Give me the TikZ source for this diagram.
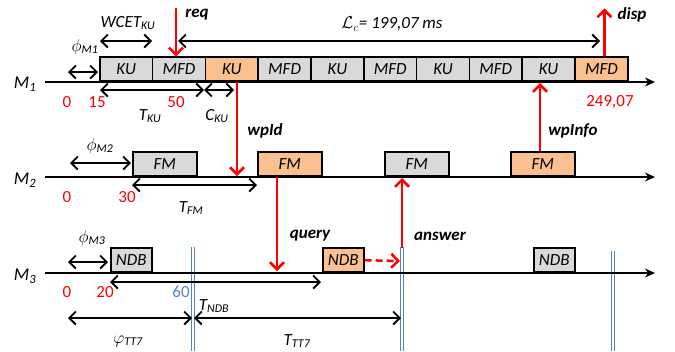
\documentclass[tikz,border=0pt]{standalone}
\usepackage{fontspec}
\setmainfont{Carlito}
\usetikzlibrary{arrows.meta}

\begin{document}
\begin{tikzpicture}[x=1pt,y=-1pt,
        txt/.style={font=\fontsize{17}{20}\selectfont\itshape},
        num/.style={font=\fontsize{17}{20}\selectfont,text=red},
        sig/.style={font=\fontsize{17}{20}\selectfont\bfseries\itshape},
        task/.style={draw,line width=1.6pt,minimum height=24pt,inner sep=0pt,anchor=south west,txt},
        axis/.style={line width=1.5pt,-{Stealth[length=10pt,width=9pt]}},
        dim/.style={line width=1.8pt,{Straight Barb[length=6.5pt,width=13pt]}-{Straight Barb[length=6.5pt,width=13pt]}},
        msg/.style={red,line width=2.5pt,-{Straight Barb[length=7pt,width=14pt]}},
        slot/.style={draw=tblue,line width=1pt,double=white,double distance=1.4pt}]
        %colores
        \definecolor{gris}{RGB}{217,217,217}
        \definecolor{naranja}{RGB}{250,192,143}
        \definecolor{tblue}{RGB}{84,130,196}
        \useasboundingbox (0,0) rectangle (675,351);

        % Ventanas TT7
        \foreach \x/\y in {193/247,402/247,613/251}
            \draw[slot] (\x,\y) -- (\x,351);

        % Ejes
        \draw[axis] (45,82) -- (655,82);
        \draw[axis] (45,177) -- (655,177);
        \draw[axis] (45,273) -- (655,273);
        \node[txt,font=\fontsize{18}{20}\selectfont\itshape] (m1) at (25,84) {M\textsubscript{1}};
        \node[txt,font=\fontsize{18}{20}\selectfont\itshape] (m2) at (25,180) {M\textsubscript{2}};
        \node[txt,font=\fontsize{18}{20}\selectfont\itshape] (m3) at (25,276) {M\textsubscript{3}};

        % Tareas M1
        \foreach \i/\t/\c in {0/KU/gris,1/MFD/gris,2/KU/naranja,3/MFD/gris,4/KU/gris,
                             5/MFD/gris,6/KU/gris,7/MFD/gris,8/KU/gris,9/MFD/naranja}
            \node[task,fill=\c,minimum width=52.8pt] (k\i) at (99+52.8*\i,82) {\t};
        % Tareas M2
        \foreach \i/\x/\c in {0/132/gris,1/257/naranja,2/384/gris,3/510/naranja}
            \node[task,fill=\c,minimum width=64pt] (f\i) at (\x,177) {FM};
        % Tareas M3
        \foreach \i/\x/\c in {0/110/gris,1/322/naranja,2/533/gris}
            \node[task,fill=\c,minimum width=41pt] (n\i) at (\x,273) {NDB};

        % Cotas
        \draw[dim] (68,72) -- (98,72);
        \node[txt] (phim1) at (85,47) {$\phi$\textsubscript{M1}};
        \draw[dim] (100,41) -- (152,41);
        \node[txt] (wcet) at (128,23) {WCET\textsubscript{KU}};
        \draw[dim] (178,41) -- (600,41);
        \node[txt] (lc) at (392,24) {$\mathcal{L}_c$= 199,07 ms};
        \draw[dim] (100,90) -- (204,90);
        \node[txt] (tku) at (150,116) {T\textsubscript{KU}};
        \draw[dim] (204,90) -- (234,90);
        \node[txt] (cku) at (217,116) {C\textsubscript{KU}};
        \draw[dim] (70,163) -- (131,163);
        \node[txt] (phim2) at (100,146) {$\phi$\textsubscript{M2}};
        \draw[dim] (132,185) -- (257,185);
        \node[txt] (tfm) at (191,208) {T\textsubscript{FM}};
        \draw[dim] (68,262) -- (108,262);
        \node[txt] (phim3) at (92,238) {$\phi$\textsubscript{M3}};
        \draw[dim] (110,282) -- (321,282);
        \node[txt] (tndb) at (214,306) {T\textsubscript{NDB}};
        \draw[dim] (68,318) -- (192,318);
        \node[txt] (phitt) at (128,341) {$\varphi$\textsubscript{TT7}};
        \draw[dim] (194,318) -- (401,318);
        \node[txt] (ttt) at (297,341) {T\textsubscript{TT7}};

        % Instantes
        \foreach \x/\y/\t in {67/102/0,97/102/15,176/102/50,610/102/{249,07},
                              67/197/0,127/197/30,67/292/0,105/292/20}
            \node[num] at (\x,\y) {\t};
        \node[num,text=tblue] (t60) at (181,292) {60};

        % Mensajes
        \coordinate (reqtop) at (176,8);
        \draw[msg] (reqtop) -- (reqtop |- k1.north);
        \node[sig] (req) at (197,15) {req};
        \draw[msg] ([xshift=3pt]k9.north) -- ++(0,-48);
        \node[sig] (disp) at (632,15) {disp};
        \coordinate (wpidend) at (237,176);
        \draw[msg] (wpidend |- k2.south) -- (wpidend);
        \node[sig] (wpid) at (265,131) {wpId};
        \coordinate (queryend) at (277,271);
        \draw[msg] (queryend |- f1.south) -- (queryend);
        \node[sig] (query) at (310,236) {query};
        \coordinate (infoend) at (540,83);
        \draw[msg] (infoend |- f3.north) -- (infoend);
        \node[sig] (wpinfo) at (573,131) {wpInfo};
        \coordinate (ansend) at (402,178);
        \draw[msg] (402,248) -- (ansend);
        \node[sig] (answer) at (440,236) {answer};
        \draw[msg,dash pattern=on 7pt off 4pt] (n1.east) -- (400,261);
    \end{tikzpicture}
\end{document}
